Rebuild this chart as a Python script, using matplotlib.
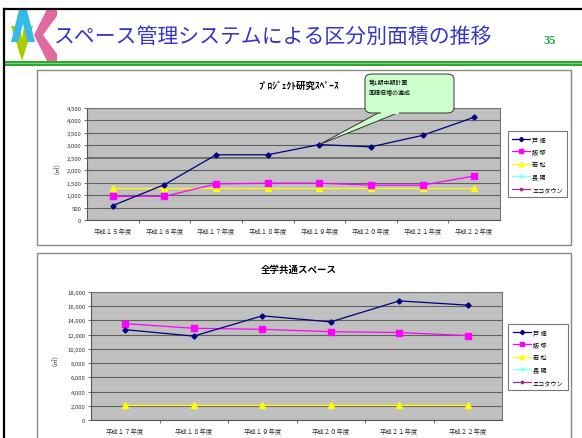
import matplotlib
matplotlib.use("Agg")
import matplotlib.pyplot as plt
from matplotlib.patches import Rectangle, Polygon, FancyBboxPatch
from matplotlib.lines import Line2D
from matplotlib.ticker import FuncFormatter, FixedLocator

plt.rcParams['font.family'] = ['Noto Sans CJK JP', 'DejaVu Sans']

# ---------------- data ----------------
title = "スペース管理システムによる区分別面積の推移"
page_no = "35"

series_names = ["戸 畑", "飯 塚", "若 松", "長 陽", "エコタウン"]

years1 = ["平成１５年度", "平成１６年度", "平成１７年度", "平成１８年度",
          "平成１９年度", "平成２０年度", "平成２１年度", "平成２２年度"]
tobata1 = [580, 1420, 2620, 2620, 3030, 2940, 3400, 4130]
iizuka1 = [950, 950, 1450, 1480, 1480, 1400, 1400, 1770]
wakamatsu1 = [1300, 1300, 1300, 1300, 1300, 1300, 1300, 1300]
title1 = "ﾌﾟﾛｼﾞｪｸﾄ研究ｽﾍﾟｰｽ"
callout_text = "第1期中期計画\n面積倍増の達成"

years2 = ["平成１７年度", "平成１８年度", "平成１９年度",
          "平成２０年度", "平成２１年度", "平成２２年度"]
tobata2 = [12700, 11800, 14650, 13800, 16750, 16150]
iizuka2 = [13550, 12900, 12750, 12420, 12300, 11870]
wakamatsu2 = [2050, 2050, 2050, 2050, 2050, 2050]
title2 = "全学共通スペース"

# ---------------- layout ----------------
W, H = 582, 439
fig = plt.figure(figsize=(W / 100, H / 100), dpi=100)
fig.patch.set_facecolor("white")


def fx(x):
    return x / W


def fy(y):
    return 1 - y / H


def rect(l, t, r, b):
    return [fx(l), fy(b), (r - l) / W, (b - t) / H]


# frame lines
fig.add_artist(Line2D([fx(4), fx(582)], [fy(10), fy(10)], color="black", lw=1.6))
fig.add_artist(Line2D([fx(4), fx(4)], [fy(10), fy(439)], color="black", lw=1.6))
# green rule
fig.add_artist(Rectangle((fx(5), fy(67)), 1, 5 / H, transform=fig.transFigure,
                         facecolor="#2EA82E", edgecolor="none"))
fig.add_artist(Rectangle((fx(5), fy(65)), 1, 1.2 / H, transform=fig.transFigure,
                         facecolor="#7FD47F", edgecolor="none"))

# logo
def poly(pts, color):
    fig.add_artist(Polygon([(fx(x), fy(y)) for x, y in pts], closed=True,
                           transform=fig.transFigure, facecolor=color, edgecolor="none"))

poly([(11, 27), (20, 27), (22, 40), (24, 27), (33, 27), (22, 62)], "#AACC00")
poly([(19, 11), (27, 11), (35, 43), (28, 43), (23, 25), (18, 43), (11, 43)], "#33BBEE")
poly([(47, 10), (57, 10), (57, 17), (43, 36), (57, 55), (57, 62), (47, 62), (34, 36)], "#E06AA0")

fig.text(fx(273), fy(37), title, ha="center", va="center", fontsize=15,
         color="#3535CC")
fig.text(fx(550), fy(41), page_no, ha="center", va="center", fontsize=9,
         color="#22AA44", fontweight="bold", family="Liberation Serif")

# chart boxes (behind the axes)
fig.add_artist(Rectangle((fx(37), fy(246)), (571 - 37) / W, (246 - 71) / H,
                         transform=fig.transFigure, facecolor="white",
                         edgecolor="#888888", lw=1, zorder=-5))
fig.add_artist(Rectangle((fx(37), fy(445)), (571 - 37) / W, (445 - 254) / H,
                         transform=fig.transFigure, facecolor="white",
                         edgecolor="#888888", lw=1, zorder=-5))


def style_axes(ax, cats, ymax, ystep):
    n = len(cats)
    ax.set_facecolor("#C0C0C0")
    ax.set_xlim(-0.5, n - 0.5)
    ax.set_ylim(0, ymax)
    yt = list(range(0, ymax + 1, ystep))
    ax.set_yticks(yt)
    ax.yaxis.set_major_formatter(FuncFormatter(lambda v, p: f"{int(v):,}"))
    ax.set_xticks(range(n))
    ax.set_xticklabels(cats)
    ax.xaxis.set_minor_locator(FixedLocator([i + 0.5 for i in range(n - 1)]))
    ax.tick_params(axis="x", which="major", length=0, pad=5, labelsize=4.6, colors="#333333")
    ax.tick_params(axis="x", which="minor", length=2.5, color="#555555", width=0.6)
    ax.tick_params(axis="y", length=2, width=0.6, color="#555555", labelsize=4.3,
                   labelcolor="#333333", pad=2)
    ax.grid(axis="y", color="#606060", lw=0.8)
    ax.set_axisbelow(True)
    for s in ["top", "right"]:
        ax.spines[s].set_color("#777777")
        ax.spines[s].set_linewidth(0.8)
    for s in ["left", "bottom"]:
        ax.spines[s].set_color("#555555")
        ax.spines[s].set_linewidth(0.8)


def plot_series(ax, t, i, w):
    x1 = range(len(t))
    ax.plot(x1, t, color="#000080", marker="D", ms=2.6, lw=0.9, zorder=5)
    ax.plot(x1, i, color="#FF00FF", marker="s", ms=4.4, lw=0.9, zorder=4)
    ax.plot(x1, w, color="#FFFF00", marker="^", ms=4.6, lw=0.9, zorder=3)


def legend_handles():
    return [
        Line2D([], [], color="#000080", marker="D", ms=2.2, lw=0.9),
        Line2D([], [], color="#FF00FF", marker="s", ms=3.2, lw=0.9),
        Line2D([], [], color="#FFFF00", marker="^", ms=3.2, lw=0.9),
        Line2D([], [], color="#80FFFF", marker="x", ms=2.5, lw=0.9),
        Line2D([], [], color="#993399", marker="*", ms=2.5, lw=0.9),
    ]


def add_legend(ax, l, t, r, b):
    leg = ax.legend(legend_handles(), series_names, loc="center",
                    bbox_to_anchor=(fx((l + r) / 2), fy((t + b) / 2)),
                    bbox_transform=fig.transFigure, fontsize=4.4, frameon=True,
                    fancybox=False, edgecolor="#555555", handlelength=3.0,
                    handletextpad=0.3, labelspacing=0.75, borderpad=0.7,
                    borderaxespad=0)
    leg.get_frame().set_linewidth(0.8)
    return leg


# ---- chart 1 ----
ax1 = fig.add_axes(rect(87, 109, 500, 221))
style_axes(ax1, years1, 4500, 500)
plot_series(ax1, tobata1, iizuka1, wakamatsu1)
ax1.get_ygridlines()[5].set_linewidth(1.2)
add_legend(ax1, 509, 138, 566, 192)
fig.text(fx(299), fy(86), title1, ha="center", va="center", fontsize=6.8,
         fontweight="bold")
fig.text(fx(54), fy(165), "（㎡）", ha="center", va="center", fontsize=4.5,
         rotation=90, color="#333333")

# callout
px, py = ax1.transData.transform((4, tobata1[4]))
tip = fig.transFigure.inverted().transform((px, py))
tail = Polygon([(fx(380), fy(113)), (fx(400), fy(113)), tuple(tip)], closed=True,
               transform=fig.transFigure, facecolor="#CCFFCC", edgecolor="#333333",
               lw=0.7, zorder=10)
fig.add_artist(tail)
box = FancyBboxPatch((fx(365), fy(114)), (454 - 365) / W, (114 - 75) / H,
                     boxstyle="round,pad=0,rounding_size=0.012",
                     transform=fig.transFigure, facecolor="#CCFFCC",
                     edgecolor="#333333", lw=0.7, zorder=11)
fig.add_artist(box)
fig.add_artist(Rectangle((fx(381), fy(114.6)), 18 / W, 1.6 / H, transform=fig.transFigure,
                         facecolor="#CCFFCC", edgecolor="none", zorder=12))
t = fig.text(fx(369), fy(88), callout_text, ha="left", va="center", fontsize=4.3,
             linespacing=1.6, zorder=13)

# ---- chart 2 ----
ax2 = fig.add_axes(rect(91, 293, 502, 421))
style_axes(ax2, years2, 18000, 2000)
plot_series(ax2, tobata2, iizuka2, wakamatsu2)
add_legend(ax2, 509, 331, 567, 385)
fig.text(fx(299), fy(270), title2, ha="center", va="center", fontsize=6.8,
         fontweight="bold")
fig.text(fx(52), fy(357), "（㎡）", ha="center", va="center", fontsize=4.5,
         rotation=90, color="#333333")

fig.savefig("out.png", dpi=100)
